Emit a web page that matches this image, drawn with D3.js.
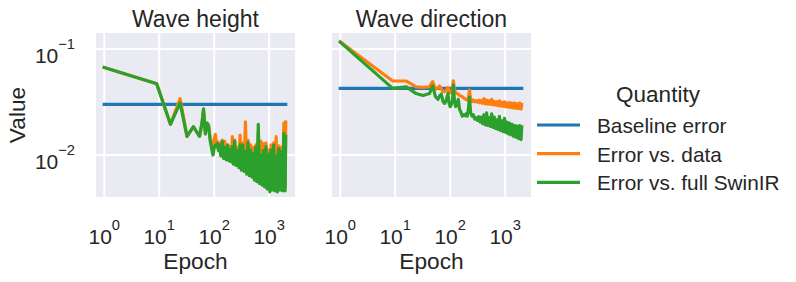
<!DOCTYPE html>
<html>
<head>
<meta charset="utf-8">
<script src="https://cdn.jsdelivr.net/npm/d3@7"></script>
<style>
  body { margin: 0; background: #fff; }
  svg { display: block; font-family: "Liberation Sans", Arial, sans-serif; }
</style>
</head>
<body>
<svg id="chart" width="796" height="282"></svg>
<script>
// data
const epochs = [1, 9, 16, 24, 32, 42, 48, 54, 60, 64, 69, 74, 79, 85, 91, 95,
  100, 105, 110, 114, 120, 126, 132, 140, 148, 156, 166, 176, 186, 196, 204, 214,
  224, 236, 250, 264, 280, 296, 312, 331, 350, 370, 390, 412, 435, 460, 485, 512,
  540, 570, 600, 634, 668, 705, 744, 785, 828, 874, 922, 973, 1027, 1083, 1143, 1206,
  1272, 1342, 1416, 1494, 1576, 1663, 1754, 1850, 1950, 2000];

const panelTitles = ["Wave height", "Wave direction"];
const quantities = ["Baseline error", "Error vs. data", "Error vs. full SwinIR"];
const baselineError = [0.030, 0.0425];

const heightVsData = [0.067, 0.047, 0.0195, 0.034, 0.0150, 0.0185, 0.0165, 0.0150,
  0.0200, 0.0270, 0.0158, 0.0200, 0.0190, 0.0140, 0.0125, 0.0102,
  0.0140, 0.0157, 0.0122, 0.0135, 0.0112, 0.0130, 0.0100, 0.0138,
  0.0095, 0.0135, 0.0092, 0.0125, 0.0090, 0.0120, 0.0088, 0.0149,
  0.0085, 0.0138, 0.0083, 0.0118, 0.0080, 0.0154, 0.0076, 0.0130,
  0.0074, 0.0206, 0.0070, 0.0138, 0.0068, 0.0125, 0.0066, 0.0118,
  0.0062, 0.0125, 0.0060, 0.0160, 0.0058, 0.0135, 0.0056, 0.0129,
  0.0055, 0.0130, 0.0053, 0.0112, 0.0050, 0.0125, 0.0051, 0.0130,
  0.0050, 0.0149, 0.0050, 0.0122, 0.0052, 0.0118, 0.0050, 0.0200,
  0.0050, 0.0205];

const heightVsSwin = [0.067, 0.047, 0.0195, 0.031, 0.0150, 0.0185, 0.0165, 0.0150,
  0.0200, 0.0272, 0.0158, 0.0200, 0.0190, 0.0134, 0.0112, 0.0100,
  0.0118, 0.0124, 0.0120, 0.0128, 0.0110, 0.0125, 0.0098, 0.0134,
  0.0093, 0.0118, 0.0090, 0.0124, 0.0088, 0.0112, 0.0086, 0.0120,
  0.0082, 0.0135, 0.0080, 0.0110, 0.0076, 0.0126, 0.0072, 0.0124,
  0.0070, 0.0108, 0.0066, 0.0132, 0.0064, 0.0112, 0.0062, 0.0104,
  0.0058, 0.0118, 0.0056, 0.0195, 0.0054, 0.0100, 0.0052, 0.0110,
  0.0050, 0.0120, 0.0048, 0.0102, 0.0045, 0.0112, 0.0047, 0.0124,
  0.0046, 0.0098, 0.0045, 0.0115, 0.0047, 0.0108, 0.0046, 0.0160,
  0.0046, 0.0150];

const dirVsData = [0.117, 0.0499, 0.0499, 0.0440, 0.0435, 0.0440, 0.0492, 0.0417,
  0.0430, 0.0448, 0.0420, 0.0400, 0.0396, 0.0410, 0.0435, 0.0400,
  0.0387, 0.0400, 0.0420, 0.0502, 0.0410, 0.0385, 0.0382, 0.0375,
  0.0365, 0.0360, 0.0355, 0.0345, 0.0340, 0.0333, 0.0330, 0.0345,
  0.0410, 0.0330, 0.0319, 0.0330, 0.0318, 0.0325, 0.0315, 0.0330,
  0.0312, 0.0328, 0.0308, 0.0340, 0.0303, 0.0330, 0.0302, 0.0325,
  0.0300, 0.0335, 0.0298, 0.0320, 0.0295, 0.0318, 0.0292, 0.0325,
  0.0290, 0.0315, 0.0288, 0.0318, 0.0285, 0.0310, 0.0283, 0.0312,
  0.0280, 0.0308, 0.0278, 0.0310, 0.0276, 0.0305, 0.0274, 0.0310,
  0.0272, 0.0300];

const dirVsSwin = [0.116, 0.0425, 0.0440, 0.0380, 0.0365, 0.0380, 0.0448, 0.0355,
  0.0335, 0.0360, 0.0376, 0.0320, 0.0307, 0.0330, 0.0382, 0.0310,
  0.0286, 0.0300, 0.0330, 0.0457, 0.0320, 0.0286, 0.0300, 0.0335,
  0.0270, 0.0255, 0.0233, 0.0240, 0.0236, 0.0245, 0.0232, 0.0270,
  0.0350, 0.0250, 0.0233, 0.0240, 0.0218, 0.0225, 0.0212, 0.0230,
  0.0205, 0.0228, 0.0198, 0.0240, 0.0192, 0.0250, 0.0190, 0.0225,
  0.0186, 0.0245, 0.0182, 0.0228, 0.0178, 0.0215, 0.0174, 0.0232,
  0.0170, 0.0210, 0.0166, 0.0222, 0.0163, 0.0205, 0.0158, 0.0200,
  0.0155, 0.0195, 0.0150, 0.0190, 0.0147, 0.0188, 0.0143, 0.0190,
  0.0140, 0.0185];

const xTicks = [1, 10, 100, 1000];
const yTicks = [0.01, 0.1];

// layout
const panelW = 199, panelH = 164, panelTop = 33;
const panelLefts = [96, 332];
const textColor = "#262626";

const svg = d3.select("#chart");

const x = d3.scaleLog().domain([Math.pow(10, -0.15), Math.pow(10, 3.47)]).range([0, panelW]);
const y = d3.scaleLog().domain([0.00402, 0.1416]).range([panelH, 0]);

const color = d3.scaleOrdinal()
  .domain(quantities)
  .range(["#1f77b4", "#ff7f0e", "#2ca02c"]);

const line = d3.line()
  .x(d => x(d.epoch))
  .y(d => y(d.value));

const exponent = v => Math.round(Math.log10(v)).toString().replace("-", "\u2212");

const panelSeries = [
  [baselineError[0], heightVsData, heightVsSwin],
  [baselineError[1], dirVsData, dirVsSwin]
];

panelSeries.forEach(function (series, i) {
  const g = svg.append("g")
    .attr("transform", `translate(${panelLefts[i]},${panelTop})`);

  g.append("rect")
    .attr("width", panelW)
    .attr("height", panelH)
    .attr("fill", "#eaeaf2");

  // grid
  g.selectAll(".xgrid")
    .data(xTicks)
    .join("line")
    .attr("x1", d => x(d)).attr("x2", d => x(d))
    .attr("y1", 0).attr("y2", panelH)
    .attr("stroke", "#fff")
    .attr("stroke-width", 2);

  g.selectAll(".ygrid")
    .data(yTicks)
    .join("line")
    .attr("y1", d => y(d)).attr("y2", d => y(d))
    .attr("x1", 0).attr("x2", panelW)
    .attr("stroke", "#fff")
    .attr("stroke-width", 2);

  const rows = [
    { key: quantities[0], values: d3.extent(epochs).map(e => ({ epoch: e, value: series[0] })) },
    { key: quantities[1], values: epochs.map((e, k) => ({ epoch: e, value: series[1][k] })) },
    { key: quantities[2], values: epochs.map((e, k) => ({ epoch: e, value: series[2][k] })) }
  ];

  g.selectAll("path.series")
    .data(rows)
    .join("path")
    .attr("class", "series")
    .attr("d", d => line(d.values))
    .attr("fill", "none")
    .attr("stroke", d => color(d.key))
    .attr("stroke-width", 3.2)
    .attr("stroke-linejoin", "round")
    .attr("stroke-linecap", "square");

  // x tick labels
  const xt = g.selectAll(".xtick")
    .data(xTicks)
    .join("text")
    .attr("x", d => x(d))
    .attr("y", 244 - panelTop)
    .attr("text-anchor", "middle")
    .attr("fill", textColor)
    .style("font-size", "21px");
  xt.append("tspan").text("10");
  xt.append("tspan").attr("dy", -14).style("font-size", "14.7px").text(d => exponent(d));

  // panel title
  g.append("text")
    .attr("x", panelW / 2)
    .attr("y", 27 - panelTop)
    .attr("text-anchor", "middle")
    .attr("fill", textColor)
    .style("font-size", "23px")
    .text(panelTitles[i]);

  // x axis label
  g.append("text")
    .attr("x", panelW / 2)
    .attr("y", 269 - panelTop)
    .attr("text-anchor", "middle")
    .attr("fill", textColor)
    .style("font-size", "22.7px")
    .text("Epoch");

  if (i === 0) {
    const yt = g.selectAll(".ytick")
      .data(yTicks)
      .join("text")
      .attr("x", -21)
      .attr("y", d => y(d) + 14)
      .attr("text-anchor", "end")
      .attr("fill", textColor)
      .style("font-size", "21px");
    yt.append("tspan").text("10");
    yt.append("tspan").attr("dy", -14).style("font-size", "14.7px").text(d => exponent(d));

    g.append("text")
      .attr("transform", `translate(${25 - panelLefts[0]},${panelH / 2}) rotate(-90)`)
      .attr("text-anchor", "middle")
      .attr("fill", textColor)
      .style("font-size", "22.7px")
      .text("Value");
  }
});

// legend
const legend = svg.append("g").attr("transform", "translate(537,0)");

legend.append("text")
  .attr("x", 121)
  .attr("y", 102)
  .attr("text-anchor", "middle")
  .attr("fill", textColor)
  .style("font-size", "22.5px")
  .text("Quantity");

const item = legend.selectAll(".item")
  .data(quantities)
  .join("g")
  .attr("transform", (d, k) => `translate(0,${125 + k * 28.7})`);

item.append("line")
  .attr("x1", 0).attr("x2", 43)
  .attr("stroke", d => color(d))
  .attr("stroke-width", 3.2);

item.append("text")
  .attr("x", 60)
  .attr("y", 8)
  .attr("fill", textColor)
  .style("font-size", "20.8px")
  .text(d => d);
</script>
</body>
</html>
